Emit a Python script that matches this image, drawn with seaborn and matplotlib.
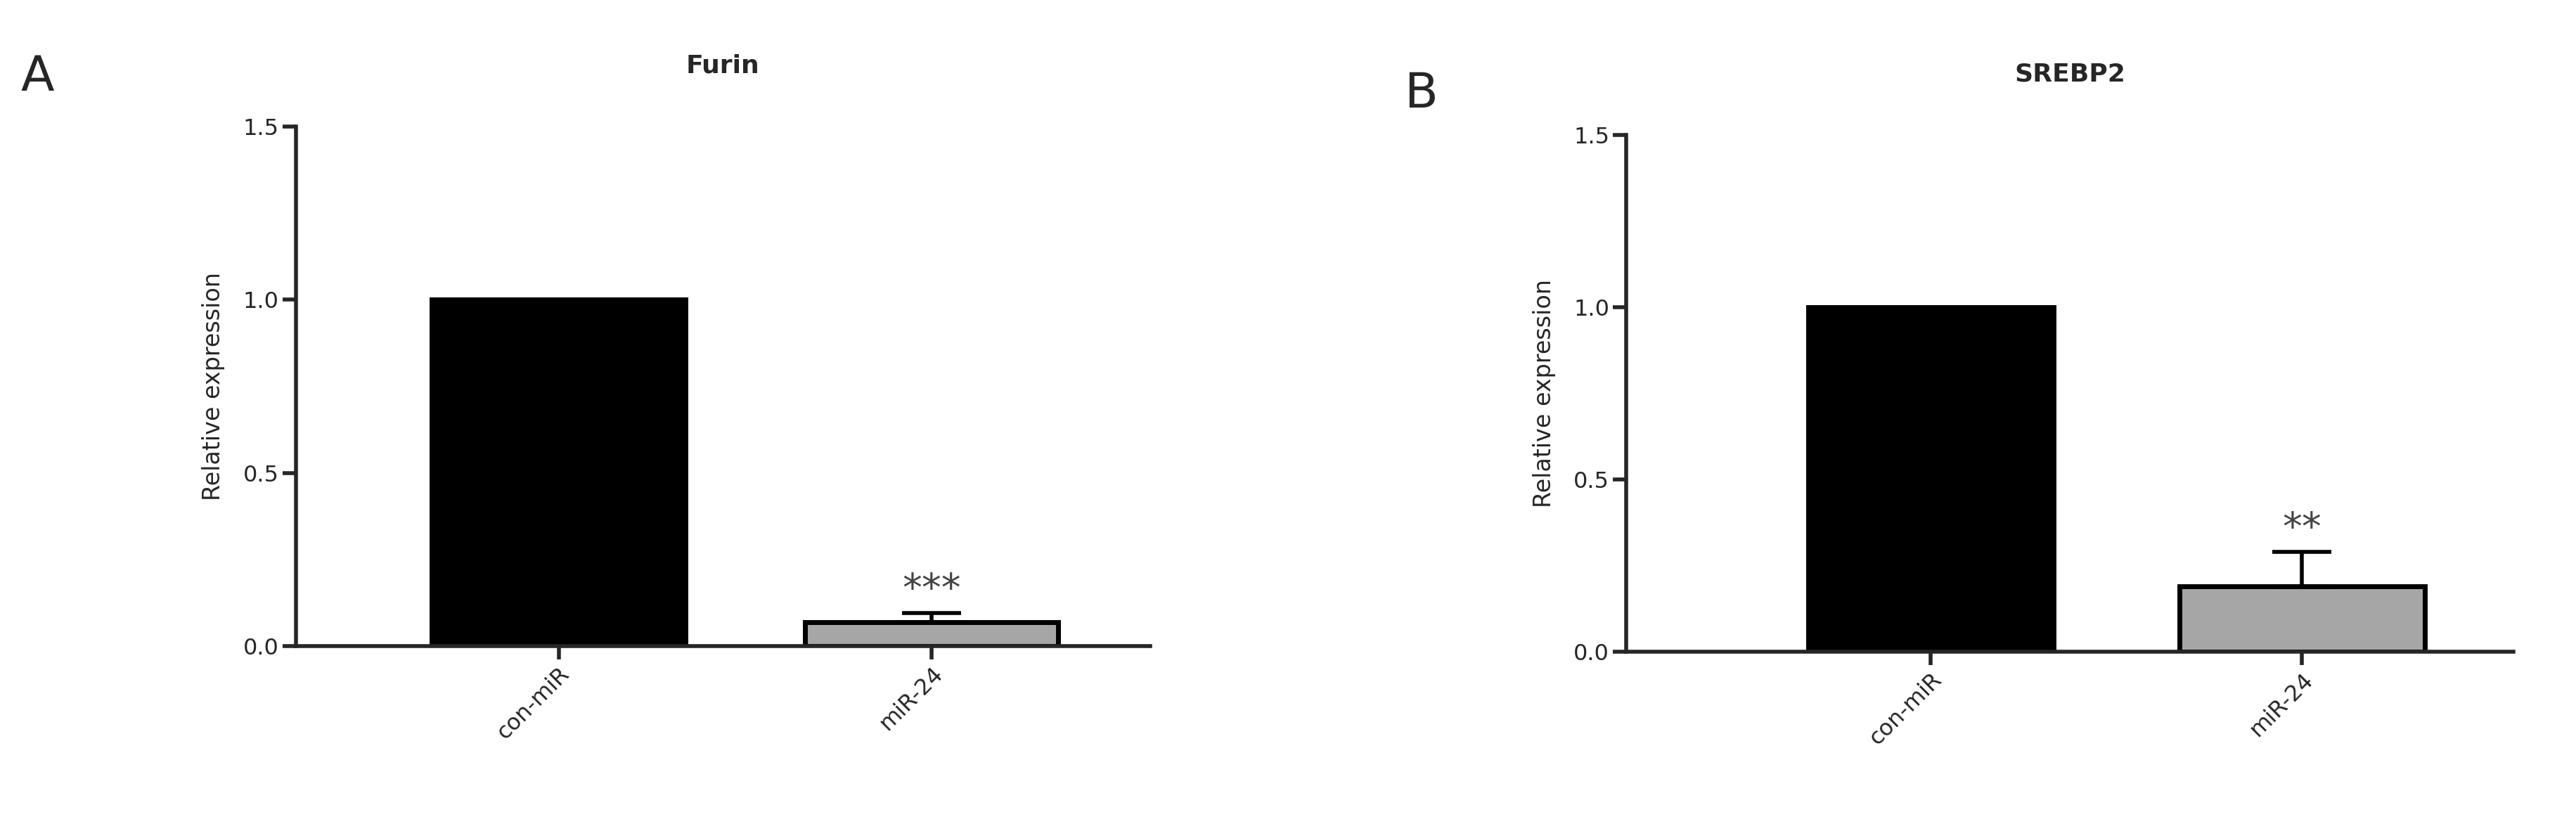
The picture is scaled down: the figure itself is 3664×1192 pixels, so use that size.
import matplotlib
matplotlib.use("Agg")
import matplotlib.pyplot as plt
import seaborn as sns
import pandas as pd

groups = ["con-miR", "miR-24"]
furin_mean = [1.0, 0.07]
furin_err = [0.0, 0.025]
srebp2_mean = [1.0, 0.19]
srebp2_err = [0.0, 0.10]
stars = ["***", "**"]
titles = ["Furin", "SREBP2"]
letters = ["A", "B"]

sns.set_style("ticks")
plt.rcParams['font.family'] = ['DejaVu Sans']

fig = plt.figure(figsize=(36.64, 11.92), dpi=100)
rects = [[0.1148, 0.229, 0.3316, 0.62], [0.6314, 0.222, 0.3444, 0.617]]
xlims = [(-0.705, 1.586), (-0.82, 1.57)]
widths = [0.68, 0.66]
letter_pos = [(0.008, 0.88), (0.545, 0.86)]

for i, (means, errs) in enumerate([(furin_mean, furin_err), (srebp2_mean, srebp2_err)]):
    ax = fig.add_axes(rects[i])
    df = pd.DataFrame({"group": groups, "value": means})
    sns.barplot(data=df, x="group", y="value", hue="group",
                palette=["black", "#a6a6a6"], width=widths[i],
                edgecolor="black", linewidth=5, errorbar=None, legend=False, ax=ax)
    ax.errorbar([1], [means[1]], yerr=[[0], [errs[1]]], fmt="none",
                ecolor="black", elinewidth=4, capsize=30, capthick=4)
    ax.text(1, means[1] + errs[1] + 0.01, stars[i], ha="center", va="bottom",
            fontsize=40, color="#444444")
    ax.set_xlim(*xlims[i])
    ax.set_ylim(0, 1.5)
    ax.set_yticks([0, 0.5, 1.0, 1.5])
    ax.set_yticklabels(["0.0", "0.5", "1.0", "1.5"])
    ax.set_xlabel("")
    ax.set_ylabel("Relative expression", fontsize=24, labelpad=18)
    ax.tick_params(axis="both", labelsize=23, width=4, length=14)
    plt.setp(ax.get_xticklabels(), rotation=45, ha="right", rotation_mode="anchor")
    for s in ["left", "bottom"]:
        ax.spines[s].set_linewidth(4)
    sns.despine(ax=ax)
    ax.set_title(titles[i], fontsize=26, fontweight="bold", pad=55)
    fig.text(*letter_pos[i], letters[i], fontsize=50, ha="left", va="bottom")

fig.savefig("out.png", dpi=100)
